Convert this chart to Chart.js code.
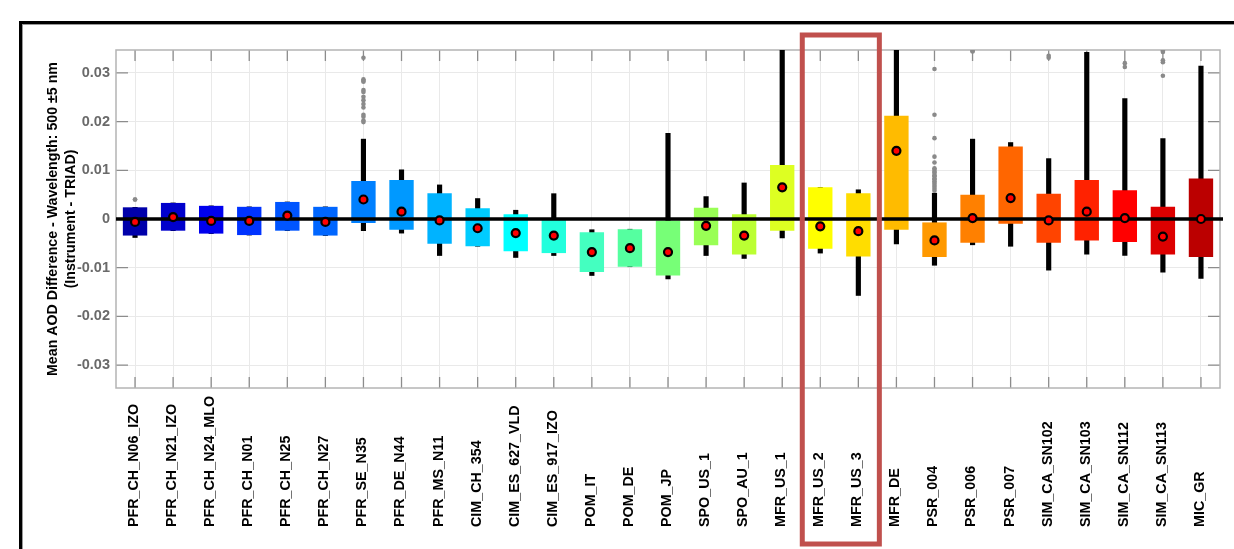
<!DOCTYPE html>
<html>
<head>
<meta charset="utf-8">
<script src="https://cdn.jsdelivr.net/npm/chart.js@4.4.1/dist/chart.umd.min.js"></script>
<style>
    html, body { margin: 0; padding: 0; background: #fff; }
    #wrap { position: relative; width: 1234px; height: 549px; overflow: hidden; }
    #frame { position: absolute; left: 19px; top: 21px; width: 1300px; height: 600px; border-left: 3px solid #000; border-top: 3px solid #000; box-shadow: inset 1px 1px 0 #999; }
    #aodChart { position: absolute; left: 0; top: 0; }
</style>
</head>
<body>
<div id="wrap">
    <div id="frame"></div>
    <canvas id="aodChart" width="1234" height="549"></canvas>
</div>
<script>
var instruments = [
    "PFR_CH_N06_IZO", "PFR_CH_N21_IZO", "PFR_CH_N24_MLO", "PFR_CH_N01", "PFR_CH_N25", "PFR_CH_N27",
    "PFR_SE_N35", "PFR_DE_N44", "PFR_MS_N11", "CIM_CH_354", "CIM_ES_627_VLD", "CIM_ES_917_IZO",
    "POM_IT", "POM_DE", "POM_JP", "SPO_US_1", "SPO_AU_1", "MFR_US_1", "MFR_US_2", "MFR_US_3",
    "MFR_DE", "PSR_004", "PSR_006", "PSR_007", "SIM_CA_SN102", "SIM_CA_SN103", "SIM_CA_SN112",
    "SIM_CA_SN113", "MIC_GR"
];
// box = 25th..75th percentile, whiskers, mean (red dot)
var boxLow = [
    -0.0034, -0.0024, -0.0030, -0.0033, -0.0024, -0.0034, -0.0008, -0.0022, -0.0051, -0.0056,
    -0.0066, -0.0070, -0.0109, -0.0098, -0.0116, -0.0054, -0.0073, -0.0024, -0.0061, -0.0077,
    -0.0022, -0.0078, -0.0049, -0.0010, -0.0049, -0.0044, -0.0047, -0.0073, -0.0078
];
var boxHigh = [
    0.0024, 0.0033, 0.0027, 0.0025, 0.0035, 0.0025, 0.0078, 0.0080, 0.0053, 0.0022,
    0.0010, -0.0001, -0.0027, -0.0021, -0.0003, 0.0023, 0.0010, 0.0111, 0.0065, 0.0053,
    0.0212, -0.0007, 0.0050, 0.0149, 0.0052, 0.0080, 0.0059, 0.0025, 0.0083
];
var whiskerLow = [
    -0.0038, -0.0024, -0.0030, -0.0033, -0.0024, -0.0034, -0.0024, -0.0029, -0.0075, -0.0056,
    -0.0079, -0.0075, -0.0116, -0.0098, -0.0123, -0.0075, -0.0081, -0.0039, -0.0070, -0.0157,
    -0.0051, -0.0095, -0.0053, -0.0056, -0.0105, -0.0072, -0.0075, -0.0109, -0.0122
];
var whiskerHigh = [
    0.0024, 0.0033, 0.0027, 0.0025, 0.0035, 0.0025, 0.0164, 0.0101, 0.0070, 0.0042,
    0.0018, 0.0052, -0.0022, -0.0021, 0.0176, 0.0046, 0.0074, 0.0360, 0.0065, 0.0060,
    0.0360, 0.0053, 0.0164, 0.0157, 0.0124, 0.0342, 0.0247, 0.0165, 0.0314
];
var meanDiff = [
    -0.0006, 0.0004, -0.0004, -0.0004, 0.0007, -0.0006, 0.0040, 0.0015, -0.0003, -0.0019,
    -0.0029, -0.0034, -0.0068, -0.0060, -0.0068, -0.0014, -0.0034, 0.0065, -0.0015, -0.0025,
    0.0140, -0.0044, 0.0002, 0.0043, -0.0003, 0.0015, 0.0002, -0.0036, 0.0000
];
var boxColors = [
    "#0000aa", "#0000cc", "#0000ee", "#0033ff", "#0055ff", "#0066ff", "#0080ff", "#0099ff", "#00b3ff", "#00ccff",
    "#00ffff", "#22ffdd", "#44ffc0", "#55ffa0", "#77ff77", "#99ff55", "#bbff33", "#ddff22", "#ffff00", "#ffdd00",
    "#ffbb00", "#ff9900", "#ff8000", "#ff6600", "#ff4400", "#ff2200", "#ff0000", "#dd0000", "#bb0000"
];
var outliers = {
    "PFR_CH_N06_IZO": [0.0040, 0.0040],
    "PFR_SE_N35": [0.0331, 0.0287, 0.0284, 0.0282, 0.0265, 0.0261, 0.0251, 0.0244, 0.0236, 0.0229, 0.0214, 0.0210, 0.0202, 0.0199],
    "PSR_004": [0.0308, 0.0214, 0.0166, 0.0128, 0.0116, 0.0104, 0.0101, 0.0097, 0.0095, 0.0090, 0.0088, 0.0083, 0.0081, 0.0077, 0.0074, 0.0070, 0.0066, 0.0062, 0.0058],
    "PSR_006": [0.0344, 0.0345],
    "SIM_CA_SN102": [0.0335, 0.0331],
    "SIM_CA_SN112": [0.0320, 0.0312],
    "SIM_CA_SN113": [0.0346, 0.0343, 0.0326, 0.0322, 0.0294]
};
var highlighted = ["MFR_US_2", "MFR_US_3"];

var outlierPoints = [];
for (var name in outliers) {
    for (var v of outliers[name]) {
        outlierPoints.push({ x: name, y: v });
    }
}

var fontFamily = "'Liberation Sans', Arial, sans-serif";

// zero line under the mean dots, inner ticks, plot frame, bottom-aligned labels, red highlight box
var matlabAxes = {
    id: "matlabAxes",
    beforeDatasetsDraw(chart) {
        var ctx = chart.ctx, a = chart.chartArea, xs = chart.scales.x, ys = chart.scales.y;
        ctx.save();
        ctx.strokeStyle = "#8c8c8c";
        ctx.lineWidth = 1.3;
        ctx.beginPath();
        for (var i = 0; i < instruments.length; i++) {
            var x = xs.getPixelForValue(i);
            ctx.moveTo(x, a.bottom); ctx.lineTo(x, a.bottom - 11);
            ctx.moveTo(x, a.top); ctx.lineTo(x, a.top + 11);
        }
        for (var t of ys.ticks) {
            var y = ys.getPixelForValue(t.value);
            ctx.moveTo(a.left, y); ctx.lineTo(a.left + 12, y);
            ctx.moveTo(a.right, y); ctx.lineTo(a.right - 12, y);
        }
        ctx.stroke();
        ctx.strokeStyle = "#b4b4b4";
        ctx.lineWidth = 1.5;
        ctx.strokeRect(a.left, a.top, a.right - a.left, a.bottom - a.top);
        ctx.restore();
    },
    beforeDatasetDraw(chart, args) {
        if (args.meta.index !== 3) return;
        var ctx = chart.ctx, a = chart.chartArea, y0 = chart.scales.y.getPixelForValue(0);
        ctx.save();
        ctx.strokeStyle = "#000";
        ctx.lineWidth = 3.5;
        ctx.beginPath();
        ctx.moveTo(a.left, y0);
        ctx.lineTo(a.right + 3, y0);
        ctx.stroke();
        ctx.restore();
    },
    afterDraw(chart) {
        var ctx = chart.ctx, a = chart.chartArea, xs = chart.scales.x;
        ctx.save();
        ctx.fillStyle = "#000";
        ctx.font = "bold 14.3px " + fontFamily;
        ctx.textAlign = "left";
        ctx.textBaseline = "middle";
        for (var i = 0; i < instruments.length; i++) {
            ctx.save();
            ctx.translate(xs.getPixelForValue(i) - 1, a.bottom + 139);
            ctx.rotate(-Math.PI / 2);
            ctx.fillText(instruments[i], 0, 0);
            ctx.restore();
        }
        var left = xs.getPixelForValue(instruments.indexOf(highlighted[0])) - 18;
        var right = xs.getPixelForValue(instruments.indexOf(highlighted[1])) + 21;
        ctx.strokeStyle = "#c0504d";
        ctx.lineWidth = 5;
        ctx.strokeRect(left, 35, right - left, 509);
        ctx.restore();
    }
};

var aodChart = new Chart("aodChart", {
    type: "bar",
    data: {
        labels: instruments,
        datasets: [
            {
                data: instruments.map((n, i) => [whiskerLow[i], whiskerHigh[i]]),
                backgroundColor: "#000",
                barThickness: 4.5,
                grouped: false,
                order: 4,
            },
            {
                data: instruments.map((n, i) => [boxLow[i], boxHigh[i]]),
                backgroundColor: boxColors,
                barPercentage: 0.64,
                categoryPercentage: 1,
                grouped: false,
                order: 3,
            },
            {
                type: "line",
                data: outlierPoints,
                showLine: false,
                pointRadius: 2.3,
                pointBorderWidth: 0,
                pointBackgroundColor: "#8a8a8a",
                order: 2,
            },
            {
                type: "line",
                data: meanDiff,
                showLine: false,
                pointRadius: 4,
                pointBorderWidth: 2.2,
                pointBackgroundColor: "#ff0000",
                pointBorderColor: "#000",
                order: 1,
            },
        ],
    },
    options: {
        responsive: false,
        animation: false,
        devicePixelRatio: 1,
        layout: { padding: { top: 50, right: 14, bottom: 161, left: 0 } },
        plugins: { legend: { display: false }, tooltip: { enabled: false } },
        scales: {
            x: {
                offset: true,
                grid: { color: "#e9e9e9", offset: false, drawTicks: false },
                border: { display: false },
                ticks: { display: false },
            },
            y: {
                min: -0.0347,
                max: 0.0347,
                afterFit: (s) => { s.width = 116; },
                grid: { color: "#e9e9e9", drawTicks: false },
                border: { display: false },
                ticks: {
                    stepSize: 0.01,
                    includeBounds: false,
                    padding: 6,
                    color: "#6a6a6a",
                    font: { family: fontFamily, size: 14.5, weight: "bold" },
                    callback: (v) => (Math.abs(v) < 1e-9 ? "0" : v.toFixed(2)),
                },
                title: {
                    display: true,
                    text: ["Mean AOD Difference - Wavelength: 500 \u00b15 nm", "(Instrument - TRIAD)"],
                    color: "#000",
                    padding: { top: 44, bottom: 0 },
                    font: { family: fontFamily, size: 14.2, weight: "bold", lineHeight: "18px" },
                },
            },
        },
    },
    plugins: [matlabAxes],
});
</script>
</body>
</html>
